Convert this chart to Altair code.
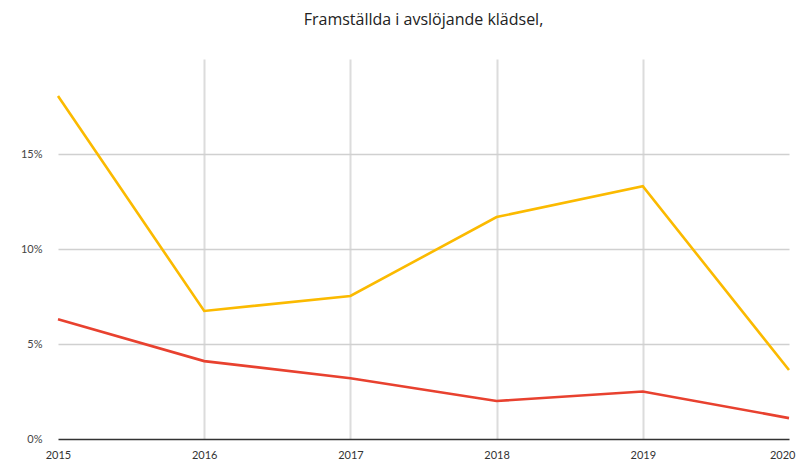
import altair as alt
import pandas as pd

years = [2015, 2016, 2017, 2018, 2019, 2020]
kvinnor = [0.1805, 0.0674, 0.0753, 0.1168, 0.1330, 0.0363]
man = [0.0630, 0.0410, 0.0320, 0.0200, 0.0250, 0.0110]
series = ["Kvinnor", "Män"]
colors = ["#FBBA00", "#E8412F"]
y_ticks = [0, 0.05, 0.10, 0.15]

df = pd.DataFrame(
    {"year": years * 2,
     "value": kvinnor + man,
     "serie": [series[0]] * len(years) + [series[1]] * len(years)}
)

FONT = "Lato"

lines = alt.Chart(df).mark_line(strokeWidth=2.6, strokeJoin="miter").encode(
    x=alt.X("year:Q",
            scale=alt.Scale(domain=[years[0], years[-1]], nice=False, zero=False),
            axis=alt.Axis(values=years, format="d", title=None, domain=False, ticks=False,
                          labelPadding=10, labelFontSize=11, labelColor="#333",
                          labelFont=FONT, labelFlush=False,
                          labelAlign=alt.expr("datum.value == 2020 ? 'right' : 'center'"),
                          labelOffset=alt.expr("datum.value == 2020 ? 6 : 0"),
                          grid=True, gridColor="#dcdcdc", gridWidth=2,
                          gridOpacity=alt.expr("datum.value == 2015 || datum.value == 2020 ? 0 : 1"))),
    y=alt.Y("value:Q",
            scale=alt.Scale(domain=[0, 0.2], nice=False),
            axis=alt.Axis(values=y_ticks, format=".0%", title=None, domain=False, ticks=False,
                          labelPadding=16, labelFontSize=11, labelColor="#444",
                          labelFont=FONT,
                          grid=True,
                          gridColor=alt.expr("datum.value == 0 ? '#333333' : '#d0d0d0'"),
                          gridWidth=alt.expr("datum.value == 0 ? 1.6 : 1.3"))),
    color=alt.Color("serie:N", scale=alt.Scale(domain=series, range=colors), legend=None),
)

chart = lines.properties(
    width=731,
    height=380,
    padding={"left": 50, "top": 51, "right": 7, "bottom": 21},
    autosize=alt.AutoSizeParams(type="none"),
    title=alt.TitleParams("Framställda i avslöjande klädsel,", font="Open Sans", fontSize=16,
                          fontWeight="normal", color="#222", offset=31, anchor="middle"),
).configure_view(stroke=None)

chart.save("out.html", embed_options={"renderer": "svg", "actions": False})
